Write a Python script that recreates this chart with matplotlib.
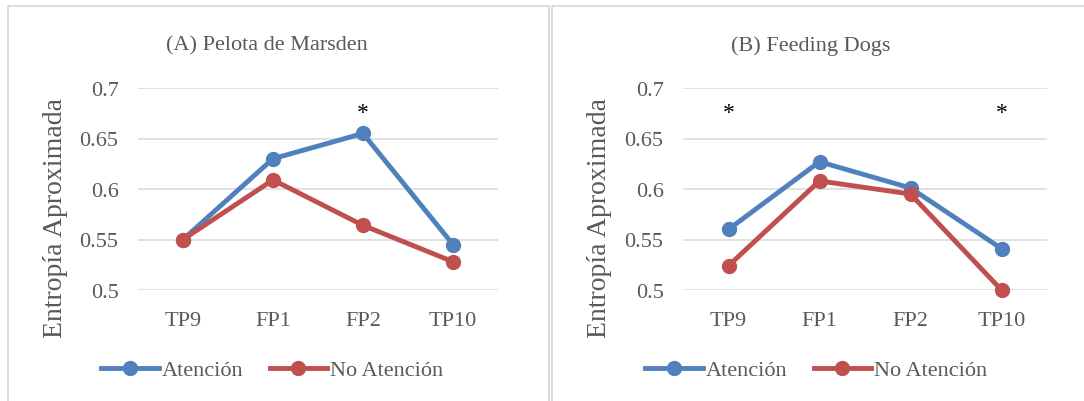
import matplotlib.pyplot as plt
from matplotlib.lines import Line2D
from matplotlib.patches import Rectangle

plt.rcParams["font.family"] = ["Liberation Serif", "DejaVu Serif"]

electrodes = ["TP9", "FP1", "FP2", "TP10"]
series_names = ["Atención", "No Atención"]

# (A) Pelota de Marsden
marsden_atencion = [0.550, 0.630, 0.655, 0.545]
marsden_no_atencion = [0.550, 0.609, 0.564, 0.528]
marsden_signif = ["FP2"]

# (B) Feeding Dogs
dogs_atencion = [0.560, 0.627, 0.601, 0.541]
dogs_no_atencion = [0.524, 0.608, 0.595, 0.500]
dogs_signif = ["TP9", "TP10"]

y_ticks = [0.5, 0.55, 0.6, 0.65, 0.7]
y_tick_labels = ["0.5", "0.55", "0.6", "0.65", "0.7"]

BLUE = "#4F81BD"
RED = "#C0504D"
GRID = "#D9D9D9"
TEXT = "#595959"

W, H = 1084, 402
fig = plt.figure(figsize=(W / 100, H / 100), dpi=100)


def px(x0, y0, w, h):
    # pixel box (top-left origin) -> figure fraction
    return [x0 / W, 1 - (y0 + h) / H, w / W, h / H]


def panel(box_x0, box_x1, ax_x0, ax_x1, title, a_vals, n_vals, signif):
    # chart border
    fig.patches.append(Rectangle(((box_x0) / W, -0.1), (box_x1 - box_x0) / W, (H - 7) / H + 0.1,
                                 transform=fig.transFigure, fill=False, edgecolor=GRID, lw=1.3))
    ax = fig.add_axes(px(ax_x0, 89, ax_x1 - ax_x0, 202))
    x = range(len(electrodes))
    ax.plot(x, a_vals, color=BLUE, lw=3.5, marker="o", ms=10, label=series_names[0], zorder=3)
    ax.plot(x, n_vals, color=RED, lw=3.5, marker="o", ms=10, label=series_names[1], zorder=4)
    ax.set_xlim(-0.5, len(electrodes) - 0.5)
    ax.set_ylim(0.5, 0.7)
    ax.set_yticks(y_ticks)
    ax.set_yticklabels(y_tick_labels)
    ax.set_xticks(list(x))
    ax.set_xticklabels(electrodes)
    ax.tick_params(length=0, labelsize=16, labelcolor=TEXT)
    ax.tick_params(axis="y", pad=14)
    ax.tick_params(axis="x", pad=15)
    ax.grid(axis="y", color=GRID, lw=1.1)
    ax.set_axisbelow(True)
    for s in ax.spines.values():
        s.set_visible(False)
    for line in ax.get_lines():
        line.set_clip_on(False)
    for name in signif:
        ax.text(electrodes.index(name), 0.676, "*", ha="center", va="center", fontsize=17, color="black")

    fig.text((box_x0 + 259) / W, 1 - 46 / H, title, ha="center", va="center", fontsize=16, color=TEXT)
    fig.text((box_x0 + 48) / W, 1 - 218 / H, "Entropía Aproximada", rotation=90,
             ha="center", va="center", fontsize=20, color=TEXT)
    handles = [Line2D([], [], color=c, lw=3.5, marker="o", ms=10) for c in (BLUE, RED)]
    fig.legend(handles, series_names, loc="center", bbox_to_anchor=((box_x0 + 264) / W, 1 - 371 / H),
               ncol=2, frameon=False, fontsize=16, handlelength=2.6, handletextpad=0.1,
               columnspacing=1.2, labelcolor=TEXT, borderaxespad=0)


panel(8, 549, 138, 498, "(A) Pelota de Marsden", marsden_atencion, marsden_no_atencion, marsden_signif)
panel(552, 1095, 683, 1047, "(B) Feeding Dogs", dogs_atencion, dogs_no_atencion, dogs_signif)

fig.savefig("out.png", dpi=100, facecolor="white")
